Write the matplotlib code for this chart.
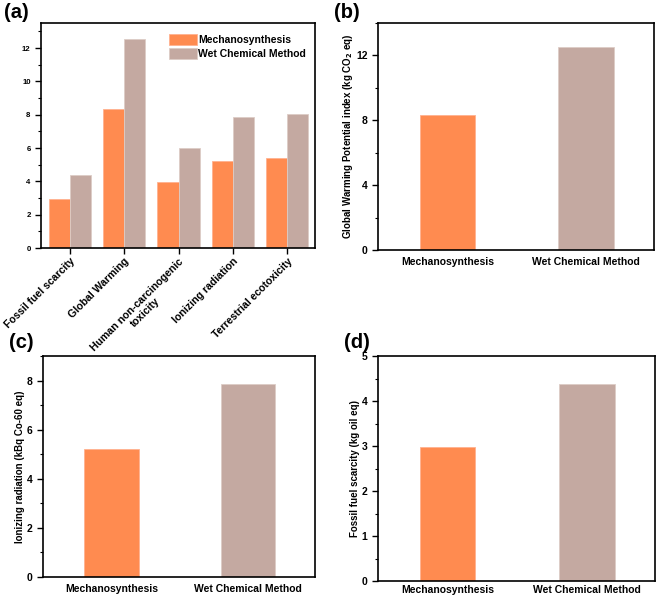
import matplotlib
matplotlib.use("Agg")
import matplotlib.pyplot as plt
import numpy as np
from matplotlib.ticker import MultipleLocator

plt.rcParams['font.family'] = ['Liberation Sans', 'DejaVu Sans']
plt.rcParams['font.weight'] = 'bold'

methods = ["Mechanosynthesis", "Wet Chemical Method"]
categories = ["Fossil fuel scarcity", "Global Warming", "Human non-carcinogenic\ntoxicity",
              "Ionizing radiation", "Terrestrial ecotoxicity"]
mech_vals = [2.97, 8.35, 3.94, 5.21, 5.38]
wet_vals = [4.37, 12.52, 5.99, 7.85, 8.05]
gwp_vals = [8.35, 12.52]
ion_vals = [5.22, 7.86]
fossil_vals = [2.98, 4.38]

C_MECH = '#FF8B50'
C_WET = '#C4A9A1'
E_MECH = '#FFB290'
E_WET = '#DDCCC6'

W, H = 661, 596
fig = plt.figure(figsize=(W/100, H/100), dpi=100)

def ax_px(l, t, r, b):
    return fig.add_axes([l/W, 1 - b/H, (r-l)/W, (b-t)/H])

def style(ax, fs):
    for s in ax.spines.values():
        s.set_linewidth(1.2)
        s.set_color('black')
    ax.tick_params(axis='y', which='major', direction='out', length=4, width=1.0,
                   labelsize=fs, right=False)
    ax.tick_params(axis='y', which='minor', direction='out', length=2, width=0.8, right=False)
    for lab in ax.get_yticklabels():
        lab.set_fontweight('bold')

# (a)
axa = ax_px(41, 23, 315, 248)
x = np.arange(len(categories))
bw = 0.39
axa.bar(x - bw/2, mech_vals, bw, color=C_MECH, edgecolor=E_MECH, linewidth=0.6, label=methods[0])
axa.bar(x + bw/2, wet_vals, bw, color=C_WET, edgecolor=E_WET, linewidth=0.6, label=methods[1])
axa.set_xlim(-0.53, 4.51)
axa.set_ylim(0, 13.5)
axa.yaxis.set_major_locator(MultipleLocator(2))
axa.yaxis.set_minor_locator(MultipleLocator(1))
axa.set_xticks(x)
axa.set_xticklabels(categories, rotation=45, ha='right', rotation_mode='anchor',
                    fontsize=7.6, fontweight='bold', multialignment='center')
axa.tick_params(axis='x', direction='out', length=4, width=1.0, pad=2)
style(axa, 5.6)
leg = axa.legend(loc='upper right', bbox_to_anchor=(0.99, 0.98), frameon=False,
                 prop={'weight': 'bold', 'size': 7.5}, handlelength=2.6, handleheight=1.3,
                 handletextpad=0.15, labelspacing=0.25, borderaxespad=0.2)
fig.text(4/W, 1 - 13/H, '(a)', fontsize=14.5, fontweight='bold', va='center', ha='left')

def two_bar(ax, vals, ylim, major, minor, ylabel, fs_tick=7.5):
    xs = np.arange(2)
    ax.bar(xs, vals, 0.4, color=[C_MECH, C_WET], edgecolor=[E_MECH, E_WET], linewidth=0.6)
    ax.set_xlim(-0.5, 1.49)
    ax.set_ylim(*ylim)
    ax.yaxis.set_major_locator(MultipleLocator(major))
    ax.yaxis.set_minor_locator(MultipleLocator(minor))
    ax.set_xticks(xs)
    ax.set_xticklabels(methods, fontsize=7.5, fontweight='bold')
    ax.tick_params(axis='x', length=0, pad=5)
    style(ax, fs_tick)
    ax.set_ylabel(ylabel, fontsize=7, fontweight='bold', labelpad=1)

axb = ax_px(378, 23, 654, 250)
two_bar(axb, gwp_vals, (0, 14), 4, 2, 'Global Warming Potential index (kg CO$_\\mathbf{2}$ eq)')
fig.text(334/W, 1 - 13/H, '(b)', fontsize=14.5, fontweight='bold', va='center', ha='left')

axc = ax_px(43, 356, 315, 577)
two_bar(axc, ion_vals, (0, 9), 2, 1, 'Ionizing radiation (kBq Co-60 eq)')
fig.text(9/W, 1 - 343/H, '(c)', fontsize=14.5, fontweight='bold', va='center', ha='left')

axd = ax_px(378, 356, 655, 581)
two_bar(axd, fossil_vals, (0, 5), 1, 0.5, 'Fossil fuel scarcity (kg oil eq)')
axd.tick_params(axis='x', pad=3)
fig.text(344/W, 1 - 343/H, '(d)', fontsize=14.5, fontweight='bold', va='center', ha='left')

fig.savefig('out.png', dpi=100)
